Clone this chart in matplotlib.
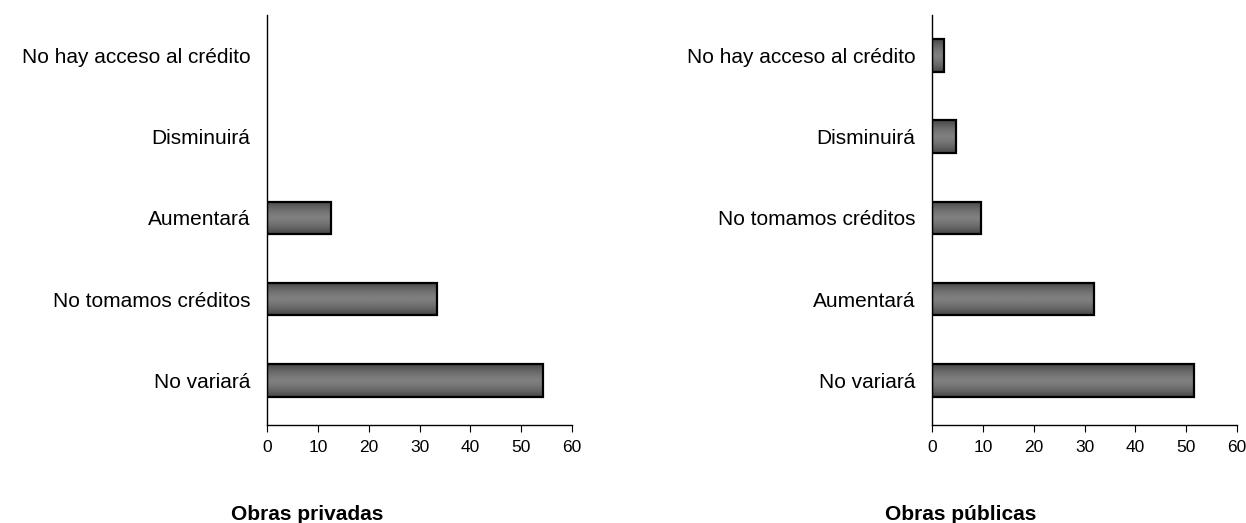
import numpy as np
import matplotlib
matplotlib.use("Agg")
import matplotlib.pyplot as plt

plt.rcParams['font.family'] = ['Liberation Sans', 'DejaVu Sans']

privadas_labels = ["No variará", "No tomamos créditos", "Aumentará", "Disminuirá", "No hay acceso al crédito"]
privadas_values = [54.2, 33.5, 12.5, 0, 0]

publicas_labels = ["No variará", "Aumentará", "No tomamos créditos", "Disminuirá", "No hay acceso al crédito"]
publicas_values = [51.5, 31.8, 9.7, 4.7, 2.4]

ticks = [0, 10, 20, 30, 40, 50, 60]

# vertical gradient for the bars: dark edges, lighter middle
grad = np.abs(np.linspace(-1, 1, 64))
grad = (0.50 - 0.22 * grad ** 1.5).reshape(-1, 1)


def draw_panel(ax, labels, values):
    y = np.arange(len(labels))
    bars = ax.barh(y, values, height=0.4, color="none", edgecolor="black", linewidth=1.6, zorder=3)
    for bar, v in zip(bars, values):
        if v <= 0:
            bar.set_visible(False)
            continue
        x0, y0 = bar.get_x(), bar.get_y()
        im = ax.imshow(grad, cmap="gray", vmin=0, vmax=1, aspect="auto",
                       extent=(x0, x0 + bar.get_width(), y0, y0 + bar.get_height()),
                       interpolation="bilinear", zorder=2)
        im.set_clip_path(bar)
    ax.set_xlim(0, 60)
    ax.set_ylim(-0.55, 4.5)
    ax.set_xticks(ticks)
    ax.set_xticklabels([str(t) for t in ticks], fontsize=12.5)
    ax.set_yticks(y)
    ax.set_yticklabels(labels, fontsize=15)
    ax.tick_params(axis="y", length=0, pad=12)
    ax.tick_params(axis="x", length=5, direction="out", pad=6)
    for s in ["top", "right"]:
        ax.spines[s].set_visible(False)
    ax.spines["left"].set_linewidth(1.0)
    ax.spines["bottom"].set_linewidth(1.0)


fig = plt.figure(figsize=(12.46, 5.23), dpi=100)
ax1 = fig.add_axes([0.2143, 0.187, 0.2448, 0.785])
ax2 = fig.add_axes([0.748, 0.187, 0.2448, 0.785])

draw_panel(ax1, privadas_labels, privadas_values)
draw_panel(ax2, publicas_labels, publicas_values)

fig.text(0.2465, 0.006, "Obras privadas", fontsize=15, fontweight="bold", ha="center", va="baseline")
fig.text(0.771, 0.006, "Obras públicas", fontsize=15, fontweight="bold", ha="center", va="baseline")

fig.savefig("out.png", dpi=100)
